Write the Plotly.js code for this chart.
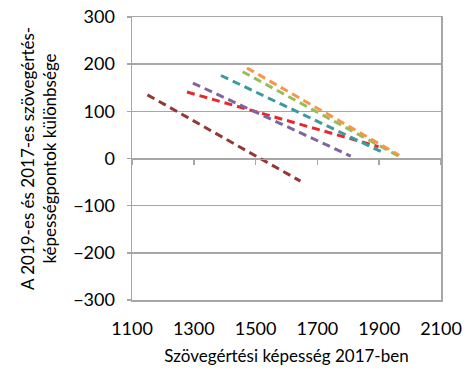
<!DOCTYPE html>
<html>
<head>
<meta charset="utf-8">
<script src="https://cdn.plot.ly/plotly-3.0.1.min.js"></script>
<style>html,body{margin:0;padding:0;background:#fff}#chart{width:476px;height:374px}</style>
</head>
<body>
<div id="chart"></div>
<script>
var seriesNames = ["brown", "red", "purple", "teal", "green", "orange"];
var seriesColors = ["#953735", "#E8282B", "#8064A2", "#3C9A9E", "#9BBB59", "#F79646"];
var xBrown = [1150, 1645];  var yBrown = [135, -48];
var xRed = [1278, 1898];    var yRed = [141, 25];
var xPurple = [1297, 1808]; var yPurple = [160, 5];
var xTeal = [1388, 1905];   var yTeal = [176, 15];
var xGreen = [1458, 1963];  var yGreen = [184, 5];
var xOrange = [1472, 1965]; var yOrange = [192, 7];
var xTicks = [1100, 1300, 1500, 1700, 1900, 2100];
var yTicks = [-300, -200, -100, 0, 100, 200, 300];
var yTickText = ["\u2212300", "\u2212200", "\u2212100", "0", "100", "200", "300"];

var xs = [xBrown, xRed, xPurple, xTeal, xGreen, xOrange];
var ys = [yBrown, yRed, yPurple, yTeal, yGreen, yOrange];
var font = "Lato, 'DejaVu Sans', sans-serif";

var traces = xs.map(function (x, i) {
  return {x: x, y: ys[i], mode: "lines", name: seriesNames[i], type: "scatter",
    line: {color: seriesColors[i], width: 3, dash: "8px,5px"}, hoverinfo: "skip"};
});
// helper trace on x2 to anchor the zero-axis ticks
traces.push({x: [1100, 2100], y: [0, 0], xaxis: "x2", mode: "lines", line: {width: 0}, showlegend: false, hoverinfo: "skip"});

var layout = {
  width: 476, height: 374,
  margin: {l: 131.5, r: 35, t: 17, b: 74},
  showlegend: false,
  paper_bgcolor: "#fff", plot_bgcolor: "#fff",
  font: {family: font, color: "#000", size: 16},
  xaxis: {
    range: [1100, 2100], tickvals: xTicks, ticktext: xTicks.map(String),
    showgrid: false, zeroline: false, showline: true, mirror: true,
    linecolor: "#a6a6a6", linewidth: 1.5, ticks: "", ticklabelstandoff: 12,
    tickfont: {family: font, size: 18},
    title: {text: "Szövegértési képesség 2017-ben", font: {family: font, size: 17}, standoff: 12}
  },
  xaxis2: {
    range: [1100, 2100], overlaying: "x", anchor: "free", position: 0.5,
    tickvals: xTicks, showticklabels: false, ticks: "outside", ticklen: 5, tickwidth: 1.5,
    tickcolor: "#a6a6a6", showline: true, linecolor: "#a6a6a6", linewidth: 1.5,
    showgrid: false, zeroline: false
  },
  yaxis: {
    range: [-300, 300], tickvals: yTicks, ticktext: yTickText,
    showgrid: true, gridcolor: "#a6a6a6", gridwidth: 1.5, zeroline: false,
    showline: true, mirror: true, linecolor: "#a6a6a6", linewidth: 1.5,
    ticks: "outside", ticklen: 4, tickwidth: 1.5, tickcolor: "#a6a6a6",
    ticklabelstandoff: 8, tickfont: {family: font, size: 18},
    title: {text: "A 2019-es és 2017-es szövegértés-<br>képességpontok különbsége", font: {family: font, size: 17}, standoff: 12}
  }
};
Plotly.newPlot("chart", traces, layout, {displayModeBar: false, staticPlot: true});
</script>
</body>
</html>
